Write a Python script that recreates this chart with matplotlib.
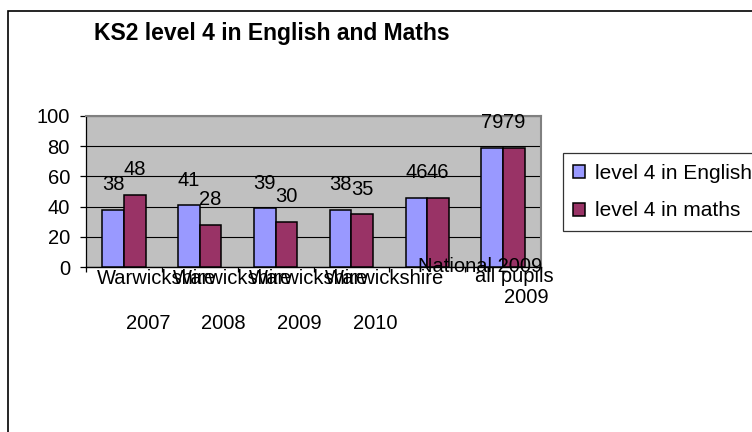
import matplotlib
matplotlib.use("Agg")
import matplotlib.pyplot as plt
from matplotlib.patches import Rectangle
from matplotlib import font_manager
import numpy as np

# ---- data ----
categories = ["Warwickshire 2007", "Warwickshire 2008", "Warwickshire 2009",
              "Warwickshire 2010", "National 2009", "all pupils 2009"]
label_line1 = ["Warwickshire", "Warwickshire", "Warwickshire", "Warwickshire",
               "National 2009", "all pupils"]
label_line2 = ["2007", "2008", "2009", "2010", "", "2009"]
english = [38, 41, 39, 38, 46, 79]
maths = [48, 28, 30, 35, 46, 79]
series_names = ["level 4 in English", "level 4 in maths"]
yticks = [0, 20, 40, 60, 80, 100]
title = "KS2 level 4 in English and Maths"

# ---- layout (pixel offsets for the overlapping Excel-style labels) ----
line1_dx = [33, 33, 33, 33, 53, 11.5]
line1_dy = [-17, -17, -17, -17, -4.4, -14.4]
line2_dx = [24, 24, 24, 24, 0, 23.5]
line2_dy = [-61.7, -61.7, -61.7, -61.7, 0, -35.4]

W, H, DPI = 752, 432, 100
PT = 72.0 / DPI  # px -> pt

names = {f.name for f in font_manager.fontManager.ttflist}
base_font = "Liberation Sans" if "Liberation Sans" in names else "DejaVu Sans"
plt.rcParams["font.family"] = [base_font, "DejaVu Sans"]
FS = 14.5

fig = plt.figure(figsize=(W / DPI, H / DPI), dpi=DPI)
fig.patch.set_facecolor("white")

# outer chart border
fig.patches.append(Rectangle((8 / W, -0.1), 2.0, (H - 11) / H + 0.1,
                             transform=fig.transFigure, fill=False,
                             edgecolor="black", linewidth=1.2))

ax = fig.add_axes([86 / W, (H - 267.3) / H, 455 / W, 151.6 / H])
ax.set_facecolor("#C0C0C0")

x = np.arange(len(categories))
bw = 1 / 3.5
b1 = ax.bar(x - bw / 2, english, bw, color="#9999FF", edgecolor="black",
            linewidth=1.1, label=series_names[0], zorder=3)
b2 = ax.bar(x + bw / 2, maths, bw, color="#993366", edgecolor="black",
            linewidth=1.1, label=series_names[1], zorder=3)

for bars, vals in ((b1, english), (b2, maths)):
    for rect, v in zip(bars, vals):
        ax.annotate(str(v), xy=(rect.get_x() + rect.get_width() / 2, v),
                    xytext=(0, 19.5 * PT), textcoords="offset points",
                    ha="center", va="baseline", fontsize=FS, color="black")

ax.set_xlim(-0.5, len(categories) - 0.5)
ax.set_ylim(0, 100)
ax.set_yticks(yticks)
ax.set_yticklabels([str(t) for t in yticks], fontsize=FS)
ax.yaxis.grid(True, color="black", linewidth=0.8, zorder=1)
ax.set_axisbelow(True)
ax.tick_params(axis="y", direction="out", length=6 * PT, width=0.9,
               pad=10 * PT, color="black")

ax.set_xticks(np.arange(-0.5, len(categories), 1.0))
ax.set_xticklabels([])
ax.tick_params(axis="x", direction="out", length=5 * PT, width=0.9, color="black")

for side in ("top", "right"):
    ax.spines[side].set_color("#808080")
    ax.spines[side].set_linewidth(1.5)
ax.spines["left"].set_color("black")
ax.spines["left"].set_linewidth(0.9)
ax.spines["bottom"].set_color("black")
ax.spines["bottom"].set_linewidth(1.0)

for i in range(len(categories)):
    ax.annotate(label_line1[i], xy=(x[i], 0), xycoords=("data", "axes fraction"),
                xytext=(line1_dx[i] * PT, line1_dy[i] * PT), textcoords="offset points",
                ha="center", va="baseline", fontsize=FS, annotation_clip=False)
    if label_line2[i]:
        ax.annotate(label_line2[i], xy=(x[i], 0), xycoords=("data", "axes fraction"),
                    xytext=(line2_dx[i] * PT, line2_dy[i] * PT), textcoords="offset points",
                    ha="center", va="baseline", fontsize=FS, annotation_clip=False)

# title
if "Liberation Sans Narrow" in names:
    fig.text(271.5 / W, 1 - 40 / H, title, ha="center", va="baseline",
             fontsize=19, fontweight="bold", family=["Liberation Sans Narrow", "DejaVu Sans"])
else:
    fig.text(271.5 / W, 1 - 40 / H, title, ha="center", va="baseline",
             fontsize=16.5, fontweight="bold")

leg = fig.legend(handles=[b1, b2], labels=series_names, loc="upper left",
                 bbox_to_anchor=(562.7 / W, 1 - 153.3 / H), borderaxespad=0,
                 fontsize=15, frameon=True, fancybox=False, edgecolor="black",
                 borderpad=0.5, labelspacing=0.9, handlelength=0.58,
                 handleheight=0.58, handletextpad=0.45)
leg.get_frame().set_linewidth(0.9)
leg.get_frame().set_facecolor("white")

fig.savefig("out.png", dpi=DPI)
